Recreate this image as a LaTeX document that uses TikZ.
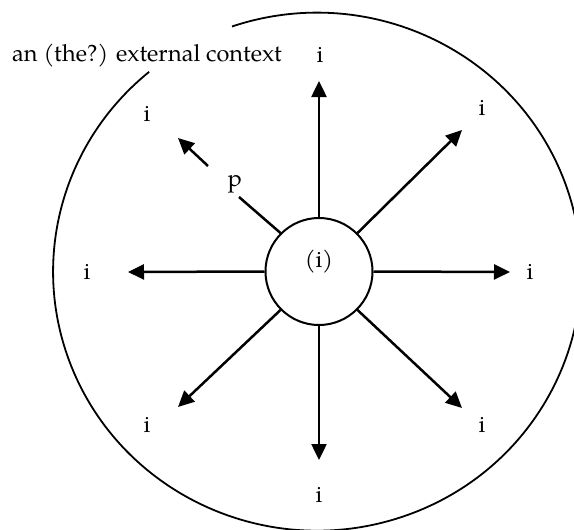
\documentclass[tikz,border=0pt]{standalone}
\usepackage{fontspec}
\setmainfont{TeX Gyre Pagella}
\usetikzlibrary{arrows.meta}
\begin{document}
\begin{tikzpicture}[x=1pt,y=-1pt,
  font=\fontsize{23.5}{28}\selectfont,
  shaft/.style={line width=2.5pt},
  arr/.style={shaft,-{Triangle[length=16pt,width=15pt]}},
  lbl/.style={inner sep=0pt,anchor=base}]
\useasboundingbox (0,0) rectangle (574,530);
\clip (0,0) rectangle (574,530);
% outer context (ellipse with a gap behind the title)
\draw[line width=1.8pt] (232,26.5) arc[start angle=-108.8,end angle=230.5,x radius=264,y radius=259];
\node[lbl,anchor=base west] (title) at (12,61) {an (the?) external context};
% centre
\node[circle,draw,line width=2pt,minimum size=107pt,inner sep=0pt] (c) at (319,271.5) {};
\node[inner sep=0pt] (ctext) at (319,262) {(i)};
% tips
\coordinate (tu) at (319,81);
\coordinate (tur) at (462,130);
\coordinate (tr) at (510,272);
\coordinate (tlr) at (462,408);
\coordinate (td) at (319,460);
\coordinate (tll) at (178,407);
\coordinate (tl) at (128,272);
\coordinate (tul) at (178,138);
\coordinate (g1) at (239,197);
\coordinate (g2) at (208,166);
\draw[arr] (c.north) -- (tu);
\draw[arr] (c.45) -- (tur);
\draw[arr] (c.east) -- (tr);
\draw[arr] (c.-45) -- (tlr);
\draw[arr] (c.south) -- (td);
\draw[arr] (c.-135) -- (tll);
\draw[arr] (c.west) -- (tl);
\draw[shaft] (c.135) -- (g1);
\draw[arr] (g2) -- (tul);
\node[inner sep=0pt] (p) at (235,184) {p};
% labels
\node[lbl] (iu) at (320,63) {i};
\node[lbl] (iur) at (482,115) {i};
\node[lbl] (ir) at (530,279) {i};
\node[lbl] (ilr) at (482,432) {i};
\node[lbl] (id) at (319,502) {i};
\node[lbl] (ill) at (147,432) {i};
\node[lbl] (il) at (87,279) {i};
\node[lbl] (iul) at (147,121) {i};
\end{tikzpicture}
\end{document}
